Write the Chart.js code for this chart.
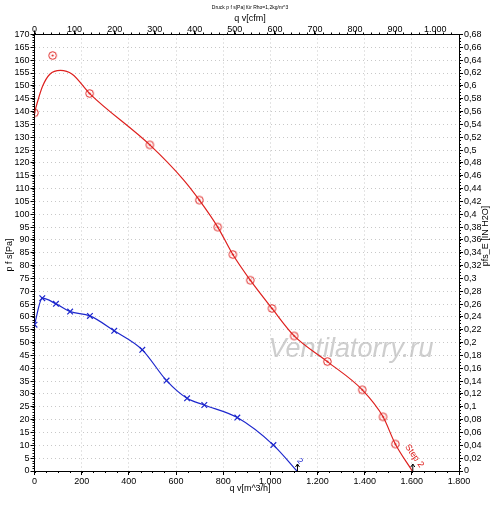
<!DOCTYPE html>
<html>
<head>
<meta charset="utf-8">
<script src="https://cdn.jsdelivr.net/npm/chart.js@4/dist/chart.umd.min.js"></script>
<style>
  html, body { margin: 0; padding: 0; background: #fff; }
  canvas { display: block; }
</style>
</head>
<body>
<canvas id="myChart" width="500" height="506"></canvas>
<script>
// Step 2 curve (red), pressure p fs [Pa] against flow q v [m^3/h]
var redCurveQ = [0, 15, 35, 65, 110, 160, 234, 489, 631, 699, 777, 841, 915, 1007, 1101, 1242, 1390, 1478, 1530, 1602];
var redCurveP = [139.5, 144.5, 150, 154.5, 156, 154.5, 147, 127, 113.5, 105.5, 95, 84.3, 74.3, 63.3, 52.6, 42.6, 31.6, 21.1, 10.5, 0];
var redMarkQ = [0, 77, 234, 489, 699, 777, 841, 915, 1007, 1101, 1242, 1390, 1478, 1530];
var redMarkP = [139.5, 161.8, 147, 127, 105.5, 95, 84.3, 74.3, 63.3, 52.6, 42.6, 31.6, 21.1, 10.5];

// curve 2 (blue)
var blueQ = [0, 33, 91, 151, 235, 338, 457, 560, 647, 720, 860, 1013, 1113];
var blueP = [57, 67.3, 65.1, 62.1, 60.4, 54.6, 47.2, 35.2, 28.3, 25.7, 20.8, 10.1, 0];
var blueMarkQ = blueQ.slice(0, 12);
var blueMarkP = blueP.slice(0, 12);

var CFM = 1.699;      // m^3/h per cfm
var PA_INH2O = 250;   // Pa per inch H2O as used on the right axis

var RED = 'rgb(222,32,30)';
var BLUE = 'rgb(30,40,205)';

function pts(xs, ys) {
    return xs.map(function (x, i) { return { x: x, y: ys[i] }; });
}

function thousands(v) {
    var s = String(Math.round(v));
    return s.length > 3 ? s.slice(0, s.length - 3) + '.' + s.slice(-3) : s;
}

function ringDot(color) {
    var c = document.createElement('canvas');
    c.width = 11; c.height = 11;
    var g = c.getContext('2d');
    g.strokeStyle = color; g.lineWidth = 1;
    g.beginPath(); g.arc(5.5, 5.5, 3.8, 0, Math.PI * 2); g.stroke();
    g.fillStyle = color;
    g.beginPath(); g.arc(5.5, 5.5, 1.1, 0, Math.PI * 2); g.fill();
    return c;
}

var FONT = 'Liberation Sans, Arial, sans-serif';

var decor = {
    id: 'decor',
    beforeDatasetsDraw: function (chart) {
        var ctx = chart.ctx;
        ctx.save();
        ctx.font = 'italic 27px ' + FONT;
        ctx.fillStyle = 'rgba(190,190,190,0.75)';
        ctx.textAlign = 'center';
        ctx.textBaseline = 'middle';
        ctx.fillText('Ventilatorry.ru', 351, 349);
        ctx.restore();
    },
    afterDraw: function (chart) {
        var ctx = chart.ctx, a = chart.chartArea, s = chart.scales;
        ctx.save();
        ctx.fillStyle = '#000';
        ctx.textAlign = 'center';
        ctx.textBaseline = 'middle';
        ctx.font = '5px ' + FONT;
        ctx.fillText('Druck p f s[Pa] für Rho=1,2kg/m^3', 250, 8);
        ctx.font = '9px ' + FONT;
        ctx.fillText('q v[cfm]', 250, 19);
        ctx.fillText('q v[m^3/h]', 250, 489);
        ctx.save(); ctx.translate(10, 255); ctx.rotate(-Math.PI / 2);
        ctx.fillText('p f s[Pa]', 0, 0); ctx.restore();
        ctx.save(); ctx.translate(486, 236); ctx.rotate(-Math.PI / 2);
        ctx.fillText('pfs_E [IN H2O]', 0, 0); ctx.restore();

        // minor ticks
        ctx.strokeStyle = '#000'; ctx.lineWidth = 1;
        ctx.beginPath();
        var v, p;
        for (v = 0; v <= 170; v += 1) {
            p = Math.round(s.y.getPixelForValue(v)) + 0.5;
            ctx.moveTo(a.left - 2, p); ctx.lineTo(a.left, p);
        }
        for (v = 0; v <= 0.68 + 1e-9; v += 0.005) {
            p = Math.round(s.y2.getPixelForValue(v)) + 0.5;
            ctx.moveTo(a.right, p); ctx.lineTo(a.right + 2, p);
        }
        for (v = 0; v <= 1800; v += 50) {
            p = Math.round(s.x.getPixelForValue(v)) + 0.5;
            ctx.moveTo(p, a.bottom); ctx.lineTo(p, a.bottom + 2);
        }
        for (v = 0; v <= 1050; v += 20) {
            p = Math.round(s.x2.getPixelForValue(v)) + 0.5;
            ctx.moveTo(p, a.top - 2); ctx.lineTo(p, a.top);
        }
        ctx.stroke();

        // curve end labels
        var rx = s.x.getPixelForValue(redCurveQ[redCurveQ.length - 1]);
        var bx = s.x.getPixelForValue(blueQ[blueQ.length - 1]);
        var by = s.y.getPixelForValue(0);
        ctx.beginPath();
        [rx, bx].forEach(function (x) {
            ctx.moveTo(x + 0.5, by); ctx.lineTo(x + 0.5, by - 7);
            ctx.moveTo(x - 1.5, by - 4); ctx.lineTo(x + 0.5, by - 7); ctx.lineTo(x + 2.5, by - 4);
        });
        ctx.stroke();
        ctx.fillStyle = RED;
        ctx.font = '9px ' + FONT;
        ctx.save(); ctx.translate(rx + 2, by - 15); ctx.rotate(0.95);
        ctx.fillText('Step 2', 0, 0); ctx.restore();
        ctx.fillStyle = BLUE;
        ctx.font = '8px ' + FONT;
        ctx.save(); ctx.translate(bx + 3, by - 10); ctx.rotate(0.9);
        ctx.fillText('2', 0, 0); ctx.restore();
        ctx.restore();
    }
};

var gridCol = 'rgb(200,200,200)';

var ctx = document.getElementById('myChart').getContext('2d');
var myChart = new Chart(ctx, {
    type: 'scatter',
    data: {
        datasets: [{
                label: 'Step 2',
                data: pts(redCurveQ, redCurveP),
                showLine: true,
                borderColor: RED,
                borderWidth: 1.2,
                pointRadius: 0,
                cubicInterpolationMode: 'monotone'
            },
            {
                label: 'Step 2 points',
                data: pts(redMarkQ, redMarkP),
                pointStyle: ringDot(RED),
                pointRadius: 4
            },
            {
                label: '2',
                data: pts(blueQ, blueP),
                showLine: true,
                borderColor: BLUE,
                borderWidth: 1.2,
                pointRadius: 0,
                cubicInterpolationMode: 'monotone'
            },
            {
                label: '2 points',
                data: pts(blueMarkQ, blueMarkP),
                pointStyle: 'crossRot',
                pointRadius: 4,
                borderColor: BLUE,
                borderWidth: 1.2
            }
        ]
    },
    options: {
        responsive: false,
        animation: false,
        events: [],
        layout: { padding: 0 },
        plugins: {
            legend: { display: false },
            tooltip: { enabled: false }
        },
        scales: {
            x: {
                type: 'linear',
                position: 'bottom',
                min: 0, max: 1800,
                afterFit: function (sc) { sc.height = 35; },
                ticks: { stepSize: 200, autoSkip: false, maxRotation: 0, padding: 1,
                    color: '#000', font: { family: FONT, size: 9 },
                    callback: function (v) { return thousands(v); } },
                grid: { color: gridCol, tickColor: '#000', tickLength: 4 },
                border: { color: '#000', dash: [1, 3] }
            },
            x2: {
                type: 'linear',
                position: 'top',
                min: 0, max: 1800 / CFM,
                afterFit: function (sc) { sc.height = 34.5; },
                ticks: { stepSize: 100, includeBounds: false, autoSkip: false, maxRotation: 0, padding: -4,
                    color: '#000', font: { family: FONT, size: 9 },
                    callback: function (v) { return thousands(v); } },
                grid: { drawOnChartArea: false, color: '#000', tickLength: 4 },
                border: { color: '#000' }
            },
            y: {
                type: 'linear',
                position: 'left',
                min: 0, max: 170,
                afterFit: function (sc) { sc.width = 34.5; },
                ticks: { stepSize: 5, autoSkip: false, padding: 1,
                    color: '#000', font: { family: FONT, size: 9 } },
                grid: { color: gridCol, tickColor: '#000', tickLength: 4 },
                border: { color: '#000', dash: [1, 3] }
            },
            y2: {
                type: 'linear',
                position: 'right',
                min: 0, max: 170 / PA_INH2O,
                afterFit: function (sc) { sc.width = 41; },
                ticks: { stepSize: 0.02, autoSkip: false, padding: 1,
                    color: '#000', font: { family: FONT, size: 9 },
                    callback: function (v) { return String(parseFloat(v.toFixed(2))).replace('.', ','); } },
                grid: { drawOnChartArea: false, color: '#000', tickLength: 4 },
                border: { color: '#000' }
            }
        }
    },
    plugins: [decor]
});
</script>
</body>
</html>
